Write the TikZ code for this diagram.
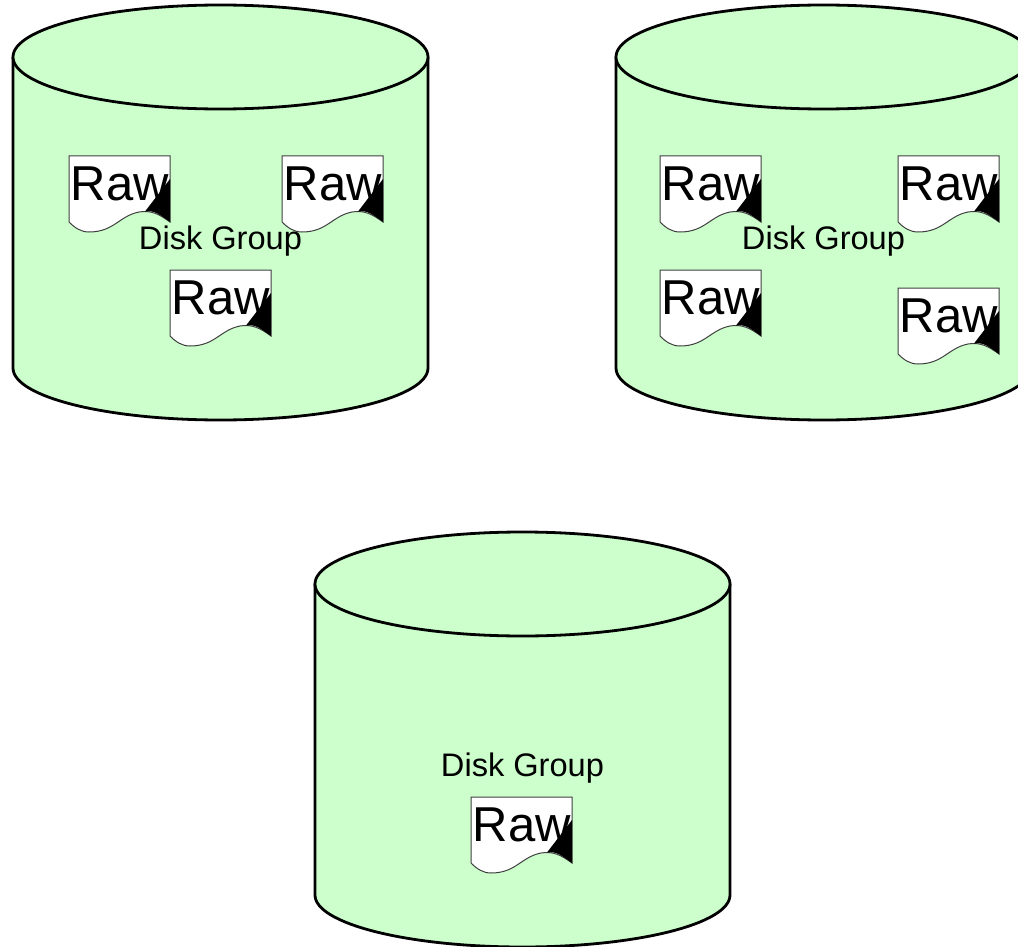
\documentclass[tikz,border=0pt]{standalone}
\usepackage{fontspec}
\setmainfont{Liberation Sans}

\definecolor{diskgreen}{RGB}{204,255,204}
\tikzset{
  diskline/.style={draw=black,line width=2.8pt,fill=diskgreen,line join=round},
  rawline/.style={draw=black!75,line width=1pt,fill=white},
  rawtext/.style={anchor=base west,inner sep=0pt,font=\fontsize{49}{50}\selectfont},
  grouptext/.style={anchor=base,inner sep=0pt,font=\fontsize{32.6}{34}\selectfont}
}

% one cylinder, #2 and #3 give its left edge and top
\newcommand{\diskgroup}[3]{
\begin{scope}[shift={(#2,#3)}]
\path[diskline] (0,52) -- (0,363) arc[start angle=180,end angle=0,x radius=207.5,y radius=52] -- (415,52) -- cycle;
\path[diskline] (207.5,52) ellipse[x radius=207.5,y radius=52];
\end{scope}
}
% one page, #2 and #3 give its top left corner
\newcommand{\rawpage}[3]{
\begin{scope}[shift={(#2,#3)}]
\path[rawline] (0,0) -- (101,0) -- (101,66) .. controls (90,58) and (82,54) .. (70,56) .. controls (50,60) and (45,76) .. (20,76) .. controls (12,76) and (6,72) .. (0,66) -- cycle;
\fill[black] (101,23) -- (76,55.5) .. controls (85,54) and (90,58) .. (101,66) -- cycle;
\node[rawtext] (#1) at (1.5,44.5) {Raw};
\end{scope}
}

\begin{document}
\begin{tikzpicture}[x=1pt,y=-1pt]
\useasboundingbox (0,0) rectangle (1018,947);
\diskgroup{a}{13}{5}
\rawpage{a1}{69}{156}
\rawpage{a2}{282}{156}
\rawpage{a3}{170}{270}
\node[grouptext] (alabel) at (220.5,249) {Disk Group};
\diskgroup{b}{616}{5}
\rawpage{b1}{660}{156}
\rawpage{b2}{898}{156}
\rawpage{b3}{660}{270}
\rawpage{b4}{898}{288}
\node[grouptext] (blabel) at (823.5,249) {Disk Group};
\diskgroup{c}{315}{532}
\rawpage{c1}{471}{797}
\node[grouptext] (clabel) at (522.5,776) {Disk Group};
\end{tikzpicture}
\end{document}
